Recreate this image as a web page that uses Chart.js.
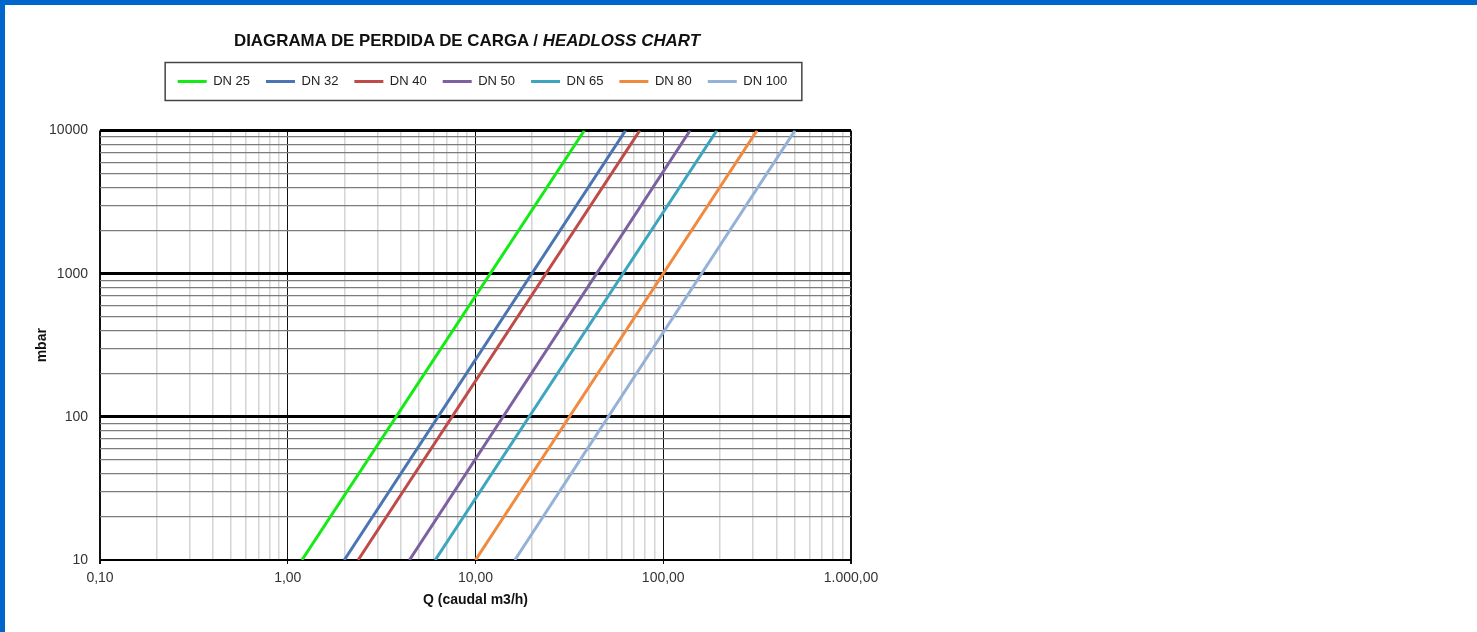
<!DOCTYPE html>
<html>
<head>
<meta charset="utf-8">
<script src="https://cdn.jsdelivr.net/npm/chart.js@4/dist/chart.umd.min.js"></script>
<style>
  html, body { margin: 0; padding: 0; background: #fff; }
  body { width: 1477px; height: 632px; position: relative; overflow: hidden; font-family: "Liberation Sans", Arial, sans-serif; }
  #barTop { position: absolute; left: 0; top: 0; width: 1477px; height: 5px; background: #0066cc; }
  #barLeft { position: absolute; left: 0; top: 0; width: 5px; height: 632px; background: #0066cc; }
  #title { position: absolute; left: 0; top: 31px; width: 934px; text-align: center; font-weight: bold; font-size: 16.9px; line-height: 20px; color: #111; }
  #wrap { position: absolute; left: 0; top: 0; width: 965px; height: 632px; }
</style>
</head>
<body>
<div id="barTop"></div>
<div id="barLeft"></div>
<div id="wrap"><canvas id="chart" width="965" height="632"></canvas></div>
<div id="title">DIAGRAMA DE PERDIDA DE CARGA / <i>HEADLOSS CHART</i></div>
<script>
// pipe sizes and their colours
const series = ["DN 25", "DN 32", "DN 40", "DN 50", "DN 65", "DN 80", "DN 100"];
const colors = ["#14ea14", "#4a75b2", "#be4b48", "#7d60a0", "#3ea5bf", "#f08a3e", "#95b1d8"];

// head loss (mbar) at both ends of every line, and the flow read at those ends
const lossRange = [10, 10000];
const qAtMin = [1.19, 2.0, 2.37, 4.45, 6.1, 10.0, 16.2];
const qAtMax = [38, 63, 75, 139, 193, 316, 503];

// axis decades and their labels
const xDecades = [0.1, 1, 10, 100, 1000];
const xLabels = ["0,10", "1,00", "10,00", "100,00", "1.000,00"];
const yDecades = [10, 100, 1000, 10000];
const yLabels = ["10", "100", "1000", "10000"];

Chart.defaults.font.family = '"Liberation Sans", Arial, sans-serif';
Chart.defaults.color = "#222";

function gridValues(decades) {
  const out = [];
  decades.forEach((d, i) => {
    if (i === decades.length - 1) { out.push(d); return; }
    for (let m = 1; m <= 9; m++) out.push(+(d * m).toPrecision(6));
  });
  return out;
}
function decadeIndex(v, decades) {
  return decades.findIndex(d => Math.abs(d - v) / d < 1e-6);
}

const xGrid = gridValues(xDecades);
const yGrid = gridValues(yDecades);

const datasets = series.map((name, i) => ({
  label: name,
  data: [{ x: qAtMin[i], y: lossRange[0] }, { x: qAtMax[i], y: lossRange[1] }],
  xAxisID: "x",
  yAxisID: "y",
  borderColor: colors[i],
  backgroundColor: colors[i],
  borderWidth: 3,
  pointRadius: 0,
  tension: 0
}));

const legendFrame = {
  id: "legendFrame",
  afterDraw(chart) {
    const boxes = chart.legend.legendHitBoxes;
    if (!boxes || !boxes.length) return;
    const first = boxes[0], last = boxes[boxes.length - 1];
    const cy = first.top + first.height / 2;
    const ctx = chart.ctx;
    ctx.save();
    ctx.strokeStyle = "#444";
    ctx.lineWidth = 1.5;
    ctx.strokeRect(first.left - 12.5, cy - 19, last.left + last.width - first.left + 27, 38);
    ctx.restore();
  }
};

new Chart(document.getElementById("chart"), {
  type: "line",
  data: { datasets },
  plugins: [legendFrame],
  options: {
    responsive: false,
    animation: false,
    devicePixelRatio: 1,
    layout: { padding: { left: 30, right: 30, top: 59, bottom: 12 } },
    plugins: {
      tooltip: { enabled: false },
      legend: {
        position: "top",
        labels: {
          usePointStyle: true,
          pointStyle: "line",
          pointStyleWidth: 29,
          padding: 16,
          color: "#222",
          font: { size: 13 }
        }
      }
    },
    scales: {
      gap: {
        type: "linear",
        position: "top",
        grid: { display: false, drawTicks: false },
        ticks: { display: false },
        border: { display: false },
        afterFit(s) { s.height = 32.5; }
      },
      x: {
        type: "logarithmic",
        min: xDecades[0],
        max: xDecades[xDecades.length - 1],
        afterBuildTicks(s) { s.ticks = xGrid.map(v => ({ value: v })); },
        afterFit(s) { s.height = 60; s.paddingRight = 114; },
        border: { display: false },
        grid: {
          color: c => decadeIndex(c.tick.value, xDecades) >= 0 ? "#111" : "#d4d4d4",
          lineWidth: c => {
            const i = decadeIndex(c.tick.value, xDecades);
            if (i < 0) return 1.5;
            return (i === 0 || i === xDecades.length - 1) ? 2 : 1;
          },
          tickColor: c => decadeIndex(c.tick.value, xDecades) >= 0 ? "#111" : "rgba(0,0,0,0)",
          tickLength: 4
        },
        ticks: {
          autoSkip: false,
          maxRotation: 0,
          padding: 6,
          color: "#333",
          font: { size: 14 },
          callback: v => {
            const i = decadeIndex(v, xDecades);
            return i >= 0 ? xLabels[i] : "";
          }
        },
        title: {
          display: true,
          text: "Q (caudal m3/h)",
          color: "#111",
          font: { size: 14, weight: "bold" },
          padding: { top: 4, bottom: 11 }
        }
      },
      y: {
        type: "logarithmic",
        min: yDecades[0],
        max: yDecades[yDecades.length - 1],
        afterBuildTicks(s) { s.ticks = yGrid.map(v => ({ value: v })); },
        afterFit(s) { s.width = 70; },
        border: { display: false },
        grid: {
          drawTicks: false,
          color: c => decadeIndex(c.tick.value, yDecades) >= 0 ? "#000" : "#7c7c7c",
          lineWidth: c => {
            const i = decadeIndex(c.tick.value, yDecades);
            if (i < 0) return 1.3;
            return i === 0 ? 2 : 3;
          }
        },
        ticks: {
          autoSkip: false,
          padding: 12,
          color: "#333",
          font: { size: 14 },
          callback: v => {
            const i = decadeIndex(v, yDecades);
            return i >= 0 ? yLabels[i] : "";
          }
        },
        title: {
          display: true,
          text: "mbar",
          color: "#111",
          font: { size: 14, weight: "bold" },
          padding: { top: 4, bottom: 4 }
        }
      }
    }
  }
});
</script>
</body>
</html>
